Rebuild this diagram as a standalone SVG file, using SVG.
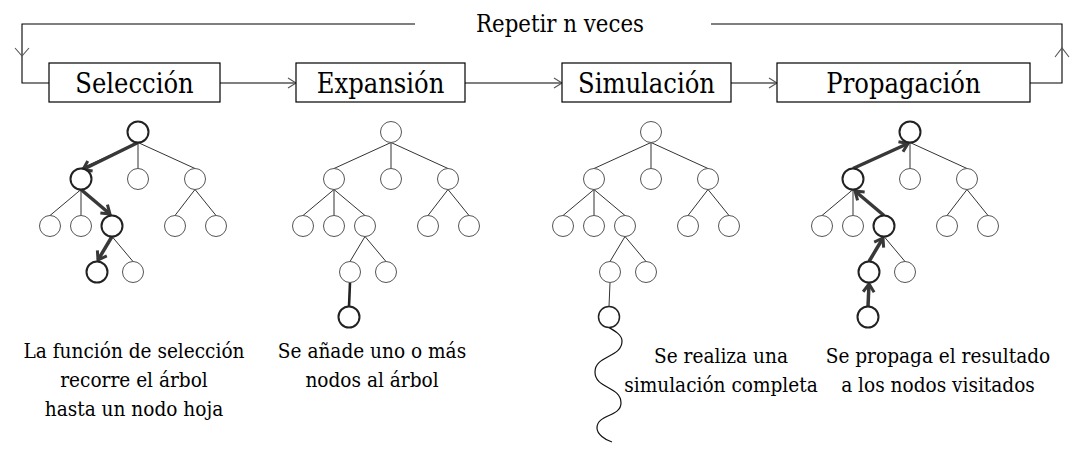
<svg xmlns="http://www.w3.org/2000/svg" width="1080" height="454" viewBox="0 0 1080 454">
<style>
  .box { fill: #fff; stroke: #000; stroke-width: 1.2; }
  .t { font-family: "DejaVu Serif Condensed", "DejaVu Serif", serif; font-stretch: condensed; fill: #000; text-anchor: middle; }
  .lbl { font-size: 27px; }
  .ttl { font-size: 23.7px; }
  .cap { font-size: 20.6px; }
  .flow { fill: none; stroke: #000; stroke-width: 1.1; }
  .chev { fill: none; stroke: #555; stroke-width: 1.1; }
  .edge { fill: none; stroke: #333; stroke-width: 1; }
  .thick { fill: none; stroke: #383838; stroke-width: 3.5; marker-end: url(#ah); }
  .thickplain { fill: none; stroke: #222; stroke-width: 2.6; }
  .wave { fill: none; stroke: #111; stroke-width: 1.2; }
  .n { fill: #fff; stroke: #555; stroke-width: 1; }
  .nb { fill: #fff; stroke: #222; stroke-width: 2; }
  .nm { fill: #fff; stroke: #222; stroke-width: 1.5; }
</style>
<defs>
  <marker id="ah" markerUnits="userSpaceOnUse" markerWidth="16" markerHeight="16" viewBox="-12 -8 16 16" refX="0" refY="0" orient="auto">
    <path d="M-8,-5.5 L0,0 L-8,5.5" fill="none" stroke="#383838" stroke-width="3"/>
  </marker>
</defs>
<rect width="1080" height="454" fill="#fff"/>

<g id="flow-connectors">
  <path class="flow" d="M415 24 H22 V83 H49"/>
  <polyline class="chev" points="15,48 22,56 29,48"/>
  <path class="flow" d="M1030 83 H1062 V24 H711"/>
  <polyline class="chev" points="1055,57 1062,48 1069,57"/>
  <line class="flow" x1="220" y1="83" x2="296" y2="83"/>
  <polyline class="chev" points="288,78 296,83 288,88"/>
  <line class="flow" x1="465" y1="83" x2="562" y2="83"/>
  <polyline class="chev" points="554,78 562,83 554,88"/>
  <line class="flow" x1="731" y1="83" x2="777" y2="83"/>
  <polyline class="chev" points="769,78 777,83 769,88"/>
</g>

<text class="t ttl" x="560" y="32">Repetir n veces</text>

<g id="box-seleccion"><rect class="box" x="49" y="63" width="171" height="39"/><text class="t lbl" x="134.5" y="93">Selección</text></g>
<g id="box-expansion"><rect class="box" x="296" y="63" width="169" height="39"/><text class="t lbl" x="380.5" y="93">Expansión</text></g>
<g id="box-simulacion"><rect class="box" x="562" y="63" width="169" height="39"/><text class="t lbl" x="646.5" y="93">Simulación</text></g>
<g id="box-propagacion"><rect class="box" x="777" y="63" width="253" height="39"/><text class="t lbl" x="903.5" y="93">Propagación</text></g>

<g id="tree1" transform="translate(138,0)">
  <g id="tree1-connectors">
    <line class="edge" x1="0" y1="142.5" x2="-57" y2="168.5"/>
    <line class="edge" x1="0" y1="142.5" x2="0" y2="168.5"/>
    <line class="edge" x1="0" y1="142.5" x2="57" y2="168.5"/>
    <line class="edge" x1="-57" y1="189.5" x2="-88" y2="215.5"/>
    <line class="edge" x1="-57" y1="189.5" x2="-57" y2="215.5"/>
    <line class="edge" x1="-57" y1="189.5" x2="-26" y2="215.5"/>
    <line class="edge" x1="57" y1="189.5" x2="37" y2="215.5"/>
    <line class="edge" x1="57" y1="189.5" x2="78" y2="215.5"/>
    <line class="edge" x1="-26" y1="236.5" x2="-41" y2="261.5"/>
    <line class="edge" x1="-26" y1="236.5" x2="-5" y2="261.5"/>
    <line class="thick" x1="0" y1="142.5" x2="-55" y2="169.5"/>
    <line class="thick" x1="-57" y1="189.5" x2="-28" y2="214"/>
    <line class="thick" x1="-26" y1="236.5" x2="-40" y2="260"/>
  </g>
  <g id="t1-root"><circle class="nb" cx="0" cy="132" r="10.5"/></g>
  <g id="t1-a"><circle class="nb" cx="-57" cy="179" r="10.5"/></g>
  <g id="t1-b"><circle class="n" cx="0" cy="179" r="10.5"/></g>
  <g id="t1-c"><circle class="n" cx="57" cy="179" r="10.5"/></g>
  <g id="t1-a1"><circle class="n" cx="-88" cy="226" r="10.5"/></g>
  <g id="t1-a2"><circle class="n" cx="-57" cy="226" r="10.5"/></g>
  <g id="t1-a3"><circle class="nb" cx="-26" cy="226" r="10.5"/></g>
  <g id="t1-c1"><circle class="n" cx="37" cy="226" r="10.5"/></g>
  <g id="t1-c2"><circle class="n" cx="78" cy="226" r="10.5"/></g>
  <g id="t1-a31"><circle class="nb" cx="-41" cy="272" r="10.5"/></g>
  <g id="t1-a32"><circle class="n" cx="-5" cy="272" r="10.5"/></g>
</g>

<g id="tree2" transform="translate(391,0)">
  <g id="tree2-connectors">
    <line class="edge" x1="0" y1="142.5" x2="-57" y2="168.5"/>
    <line class="edge" x1="0" y1="142.5" x2="0" y2="168.5"/>
    <line class="edge" x1="0" y1="142.5" x2="57" y2="168.5"/>
    <line class="edge" x1="-57" y1="189.5" x2="-88" y2="215.5"/>
    <line class="edge" x1="-57" y1="189.5" x2="-57" y2="215.5"/>
    <line class="edge" x1="-57" y1="189.5" x2="-26" y2="215.5"/>
    <line class="edge" x1="57" y1="189.5" x2="37" y2="215.5"/>
    <line class="edge" x1="57" y1="189.5" x2="78" y2="215.5"/>
    <line class="edge" x1="-26" y1="236.5" x2="-41" y2="261.5"/>
    <line class="edge" x1="-26" y1="236.5" x2="-5" y2="261.5"/>
    <line class="thickplain" x1="-41" y1="282.5" x2="-42" y2="306.5"/>
  </g>
  <g id="t2-root"><circle class="n" cx="0" cy="132" r="10.5"/></g>
  <g id="t2-a"><circle class="n" cx="-57" cy="179" r="10.5"/></g>
  <g id="t2-b"><circle class="n" cx="0" cy="179" r="10.5"/></g>
  <g id="t2-c"><circle class="n" cx="57" cy="179" r="10.5"/></g>
  <g id="t2-a1"><circle class="n" cx="-88" cy="226" r="10.5"/></g>
  <g id="t2-a2"><circle class="n" cx="-57" cy="226" r="10.5"/></g>
  <g id="t2-a3"><circle class="n" cx="-26" cy="226" r="10.5"/></g>
  <g id="t2-c1"><circle class="n" cx="37" cy="226" r="10.5"/></g>
  <g id="t2-c2"><circle class="n" cx="78" cy="226" r="10.5"/></g>
  <g id="t2-a31"><circle class="n" cx="-41" cy="272" r="10.5"/></g>
  <g id="t2-a32"><circle class="n" cx="-5" cy="272" r="10.5"/></g>
  <g id="t2-new"><circle class="nb" cx="-42" cy="317" r="10.5"/></g>
</g>

<g id="tree3" transform="translate(651,0)">
  <g id="tree3-connectors">
    <line class="edge" x1="0" y1="142.5" x2="-57" y2="168.5"/>
    <line class="edge" x1="0" y1="142.5" x2="0" y2="168.5"/>
    <line class="edge" x1="0" y1="142.5" x2="57" y2="168.5"/>
    <line class="edge" x1="-57" y1="189.5" x2="-88" y2="215.5"/>
    <line class="edge" x1="-57" y1="189.5" x2="-57" y2="215.5"/>
    <line class="edge" x1="-57" y1="189.5" x2="-26" y2="215.5"/>
    <line class="edge" x1="57" y1="189.5" x2="37" y2="215.5"/>
    <line class="edge" x1="57" y1="189.5" x2="78" y2="215.5"/>
    <line class="edge" x1="-26" y1="236.5" x2="-41" y2="261.5"/>
    <line class="edge" x1="-26" y1="236.5" x2="-5" y2="261.5"/>
    <line class="edge" x1="-41" y1="282.5" x2="-42" y2="306.5"/>
    <path class="wave" d="M-42 327.5 C-36 331 -29 335 -29 341 C-29 358 -56 355 -56 372 C-56 389 -30 386 -30 403 C-30 417 -54 414 -54 428 C-54 434 -46 440 -39 442"/>
  </g>
  <g id="t3-root"><circle class="n" cx="0" cy="132" r="10.5"/></g>
  <g id="t3-a"><circle class="n" cx="-57" cy="179" r="10.5"/></g>
  <g id="t3-b"><circle class="n" cx="0" cy="179" r="10.5"/></g>
  <g id="t3-c"><circle class="n" cx="57" cy="179" r="10.5"/></g>
  <g id="t3-a1"><circle class="n" cx="-88" cy="226" r="10.5"/></g>
  <g id="t3-a2"><circle class="n" cx="-57" cy="226" r="10.5"/></g>
  <g id="t3-a3"><circle class="n" cx="-26" cy="226" r="10.5"/></g>
  <g id="t3-c1"><circle class="n" cx="37" cy="226" r="10.5"/></g>
  <g id="t3-c2"><circle class="n" cx="78" cy="226" r="10.5"/></g>
  <g id="t3-a31"><circle class="n" cx="-41" cy="272" r="10.5"/></g>
  <g id="t3-a32"><circle class="n" cx="-5" cy="272" r="10.5"/></g>
  <g id="t3-new"><circle class="nm" cx="-42" cy="317" r="10.5"/></g>
</g>

<g id="tree4" transform="translate(910,0)">
  <g id="tree4-connectors">
    <line class="edge" x1="0" y1="142.5" x2="-57" y2="168.5"/>
    <line class="edge" x1="0" y1="142.5" x2="0" y2="168.5"/>
    <line class="edge" x1="0" y1="142.5" x2="57" y2="168.5"/>
    <line class="edge" x1="-57" y1="189.5" x2="-88" y2="215.5"/>
    <line class="edge" x1="-57" y1="189.5" x2="-57" y2="215.5"/>
    <line class="edge" x1="-57" y1="189.5" x2="-26" y2="215.5"/>
    <line class="edge" x1="57" y1="189.5" x2="37" y2="215.5"/>
    <line class="edge" x1="57" y1="189.5" x2="78" y2="215.5"/>
    <line class="edge" x1="-26" y1="236.5" x2="-41" y2="261.5"/>
    <line class="edge" x1="-26" y1="236.5" x2="-5" y2="261.5"/>
    <line class="thick" x1="-42" y1="306.5" x2="-41" y2="284"/>
    <line class="thick" x1="-41" y1="261.5" x2="-27" y2="238"/>
    <line class="thick" x1="-26" y1="215.5" x2="-55" y2="191"/>
    <line class="thick" x1="-57" y1="168.5" x2="-2" y2="143.5"/>
  </g>
  <g id="t4-root"><circle class="nb" cx="0" cy="132" r="10.5"/></g>
  <g id="t4-a"><circle class="nb" cx="-57" cy="179" r="10.5"/></g>
  <g id="t4-b"><circle class="n" cx="0" cy="179" r="10.5"/></g>
  <g id="t4-c"><circle class="n" cx="57" cy="179" r="10.5"/></g>
  <g id="t4-a1"><circle class="n" cx="-88" cy="226" r="10.5"/></g>
  <g id="t4-a2"><circle class="n" cx="-57" cy="226" r="10.5"/></g>
  <g id="t4-a3"><circle class="nb" cx="-26" cy="226" r="10.5"/></g>
  <g id="t4-c1"><circle class="n" cx="37" cy="226" r="10.5"/></g>
  <g id="t4-c2"><circle class="n" cx="78" cy="226" r="10.5"/></g>
  <g id="t4-a31"><circle class="nb" cx="-41" cy="272" r="10.5"/></g>
  <g id="t4-a32"><circle class="n" cx="-5" cy="272" r="10.5"/></g>
  <g id="t4-new"><circle class="nb" cx="-42" cy="317" r="10.5"/></g>
</g>

<g id="caption-seleccion">
  <text class="t cap" x="134" y="358">La función de selección</text>
  <text class="t cap" x="134" y="387">recorre el árbol</text>
  <text class="t cap" x="134" y="416">hasta un nodo hoja</text>
</g>
<g id="caption-expansion">
  <text class="t cap" x="372" y="358">Se añade uno o más</text>
  <text class="t cap" x="372" y="387">nodos al árbol</text>
</g>
<g id="caption-simulacion">
  <text class="t cap" x="721" y="363">Se realiza una</text>
  <text class="t cap" x="721" y="392">simulación completa</text>
</g>
<g id="caption-propagacion">
  <text class="t cap" x="938" y="363">Se propaga el resultado</text>
  <text class="t cap" x="938" y="392">a los nodos visitados</text>
</g>
</svg>
